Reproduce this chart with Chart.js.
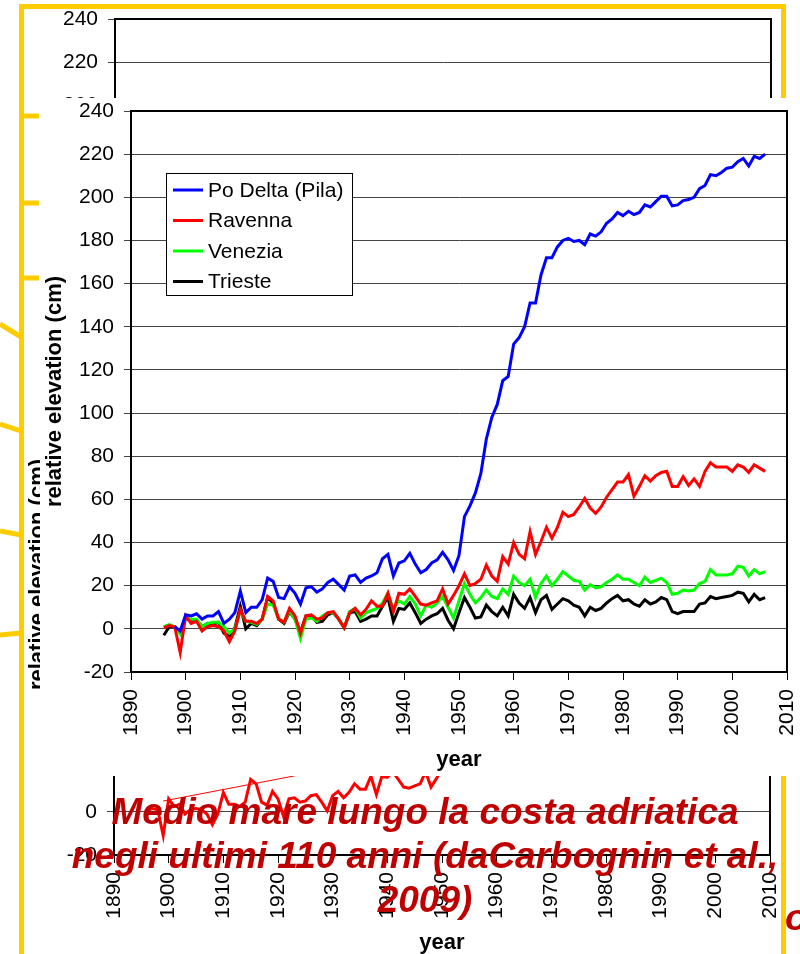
<!DOCTYPE html>
<html>
<head>
<meta charset="utf-8">
<script src="https://cdn.jsdelivr.net/npm/chart.js@4/dist/chart.umd.min.js"></script>
<style>
  html, body { margin: 0; padding: 0; width: 800px; height: 954px; overflow: hidden; background: #fff; }
  .layer { position: absolute; }
  #backTopWrap { left: 24px; top: 6px; width: 760px; height: 92px; overflow: hidden; z-index: 0; }
  #backBottomWrap { left: 23px; top: 281px; width: 760px; height: 678px; z-index: 0; }
  #frame { left: 0; top: 0; z-index: 1; }
  #mainWrap { left: 40px; top: 98px; width: 760px; height: 678px; background: #fff; z-index: 2; }
  .caption {
    position: absolute; z-index: 3;
    font-family: "Liberation Sans", Arial, sans-serif;
    font-weight: bold; font-style: italic; font-size: 37px; line-height: 44px;
    color: #C00000; white-space: nowrap;
  }
  #title { left: 25px; top: 790px; width: 800px; text-align: center; }
  #cut { left: 785px; top: 896px; }
</style>
</head>
<body>
<div id="backTopWrap" class="layer"><canvas id="backTop" width="760" height="678"></canvas></div>
<div id="backBottomWrap" class="layer"><canvas id="backBottom" width="760" height="678"></canvas></div>
<canvas id="frame" class="layer" width="800" height="954"></canvas>
<div id="mainWrap" class="layer"><canvas id="main" width="760" height="678"></canvas></div>
<div id="title" class="caption">Medio mare lungo la costa adriatica<br>negli ultimi 110 anni (daCarbognin et al.,<br>2009)</div>
<div id="cut" class="caption">o</div>

<script>
// Annual relative elevation (cm), 1896-2006
const years = [];
for (let y = 1896; y <= 2006; y++) years.push(y);

const poDelta = [
  null, null, 1, -1,                                              // 1896-1899
  6.5, 6, 7, 4.5, 6, 6, 8, 2.5, 4.5, 7.5,                          // 1900s
  17.5, 7.5, 10, 10, 13.5, 23.5, 22, 14.5, 14, 19.5,               // 1910s
  16.5, 11.5, 19, 19.5, 17, 18.5, 21.5, 23, 20.5, 18,              // 1920s
  24.5, 25, 21.5, 23.5, 24.5, 26, 32.5, 34.5, 24.5, 30.5,          // 1930s
  31.5, 35, 30, 26, 27.5, 30.5, 32, 35.5, 32, 27,                  // 1940s
  34, 52, 57, 63, 72, 88, 98, 104, 115, 117,                       // 1950s
  132, 135, 140, 151, 151, 164, 172, 172, 177, 180,                // 1960s
  181, 179.5, 180, 178, 183, 182, 184, 188, 190, 193,              // 1970s
  191.5, 193.5, 192, 193, 196.5, 195.5, 198, 200.5, 200.5, 196,    // 1980s
  196.5, 198.5, 199, 200, 204, 205.5, 210.5, 210, 211.5, 213.5,    // 1990s
  214, 216.5, 218, 214.5, 219, 218, 220                            // 2000-2006
];

const ravenna = [
  0.5, 1.5, 1, -11,
  6, 2.5, 3.5, -1, 1, 1.5, 1, -1, -6, -1,
  9, 3.5, 3.5, 2.5, 4.5, 15, 13, 4.5, 3, 9.5,
  6, -2, 6, 6.5, 4.5, 5, 7.5, 8, 4.5, 0.5,
  7.5, 9.5, 6.5, 9, 13, 10.5, 10.5, 16.5, 8, 16.5,
  16, 18.5, 15, 11.5, 11, 12, 13, 18.5, 11.5, 15.5,
  20, 25.5, 20, 21, 23, 29.5, 24.5, 22, 33.5, 30,
  40, 34.5, 32.5, 45, 34.5, 40.5, 47, 42, 47, 54,
  52, 53, 56.5, 60.5, 56, 53.5, 56.5, 61, 64.5, 68,
  68, 71.5, 61.5, 66, 71, 68.5, 71, 72.5, 73, 66,
  66, 70.5, 66.5, 69.5, 66, 73, 77, 75, 75, 75,
  73, 76, 75, 72.5, 76, 74.5, 73
];

const venezia = [
  1, 2, 1, -2.5,
  5, 4.5, 4.5, 1, 2.5, 3, 3, 1, -2, 0,
  8, 3.5, 3, 2, 4.5, 11.5, 11, 5, 3, 8.5,
  4.5, -4.5, 4.5, 5, 3.5, 6, 7.5, 7.5, 4.5, 0.5,
  8, 9.5, 5, 7.5, 8.5, 9.5, 12, 16.5, 9, 13,
  11.5, 15, 11.5, 6, 11, 10, 12, 15, 10, 5,
  13, 21, 16, 12, 14.5, 18, 15, 14, 18.5, 16,
  24.5, 21.5, 20, 23, 14.5, 21, 24.5, 20, 23, 26.5,
  24.5, 22.5, 22, 18, 20.5, 19, 19.5, 21.5, 23, 25,
  23, 23, 21.5, 20, 24, 21.5, 22.5, 23.5, 21.5, 16,
  16.5, 18, 17.5, 18, 21, 22, 27.5, 25, 25, 25,
  25.5, 29, 28.5, 24.5, 27.5, 25.5, 26.5
];

const trieste = [
  -3, 1, 1, -2,
  5, 3.5, 4, 1, 2.5, 2, 3, -2, -3.5, 0.5,
  10.5, 0, 2.5, 1.5, 4.5, 14.5, 12, 4.5, 2.5, 8,
  4.5, -1.5, 6, 6, 3, 3.5, 6.5, 7.5, 4.5, 0.5,
  7.5, 8, 3.5, 4.5, 6, 6, 10.5, 14.5, 3.5, 9.5,
  9, 12, 7.5, 2.5, 4.5, 6, 7, 9.5, 4, 0,
  7.5, 14.5, 10, 5, 5.5, 11, 8, 6, 10, 6,
  16, 12, 9.5, 14.5, 7.5, 13.5, 15.5, 9, 11.5, 14,
  13, 11, 10, 6, 10, 8.5, 9.5, 12, 14, 15.5,
  13, 13.5, 11.5, 10.5, 13.5, 11.5, 12.5, 14.5, 13.5, 8,
  7, 8, 8, 8, 11.5, 12, 15, 14, 14.5, 15,
  15.5, 17, 16.5, 12.5, 16, 13.5, 14.5
];

// Linear trend drawn over the Ravenna record in the copy behind the main chart
const trendYears = [1899, 1935];
const trendValues = [5, 22.5];

const seriesNames = ['Po Delta (Pila)', 'Ravenna', 'Venezia', 'Trieste'];
const seriesColors = ['#0000FF', '#FF0000', '#00FF00', '#000000'];
const yearTicks = [1890, 2010, 10];
const elevationTicks = [-20, 240, 20];

const FONT = '"Liberation Sans", Arial, sans-serif';

function points(xs, ys) {
  return xs.map((x, i) => ({ x: x, y: ys[i] }));
}

function seriesDataset(idx, values) {
  return {
    label: seriesNames[idx],
    data: points(years, values),
    borderColor: seriesColors[idx],
    backgroundColor: seriesColors[idx],
    borderWidth: 3,
    pointRadius: 0,
    tension: 0,
    spanGaps: false
  };
}

// Fixed axis sizes; label overhang is absorbed by the layout padding instead
function fixSize(prop, value) {
  return s => {
    s[prop] = value;
    s.paddingLeft = 0;
    s.paddingRight = 0;
    s.paddingTop = 0;
    s.paddingBottom = 0;
  };
}

// Black frame around the plot area
const plotBorder = {
  id: 'plotBorder',
  afterDraw(chart) {
    const { ctx, chartArea: a } = chart;
    ctx.save();
    ctx.strokeStyle = '#000';
    ctx.lineWidth = 2;
    ctx.strokeRect(a.left, a.top, a.right - a.left, a.bottom - a.top);
    ctx.restore();
  }
};

// Boxed legend sitting inside the plot area
const boxLegend = {
  id: 'boxLegend',
  afterDatasetsDraw(chart, args, opts) {
    if (!opts || !opts.show) return;
    const { ctx, chartArea } = chart;
    const x0 = chartArea.left + opts.dx;
    const y0 = chartArea.top + opts.dy;
    ctx.save();
    ctx.fillStyle = '#fff';
    ctx.fillRect(x0, y0, opts.w, opts.h);
    ctx.strokeStyle = '#000';
    ctx.lineWidth = 1;
    ctx.strokeRect(x0 + 0.5, y0 + 0.5, opts.w, opts.h);
    ctx.font = '21px ' + FONT;
    ctx.textBaseline = 'middle';
    chart.data.datasets.forEach((ds, i) => {
      const yy = y0 + 17 + i * 30.5;
      ctx.strokeStyle = ds.borderColor;
      ctx.lineWidth = 3;
      ctx.beginPath();
      ctx.moveTo(x0 + 7, yy);
      ctx.lineTo(x0 + 37, yy);
      ctx.stroke();
      ctx.fillStyle = '#000';
      ctx.fillText(ds.label, x0 + 42, yy + 1);
    });
    ctx.restore();
  }
};

function makeChart(canvasId, datasets, withLegend) {
  return new Chart(document.getElementById(canvasId), {
    type: 'line',
    data: { datasets: datasets },
    options: {
      responsive: false,
      animation: false,
      events: [],
      layout: { padding: { left: 0, right: 13, top: 13, bottom: 0 } },
      plugins: {
        legend: { display: false },
        tooltip: { enabled: false },
        boxLegend: { show: withLegend, dx: 35, dy: 62, w: 186, h: 122 }
      },
      scales: {
        x: {
          type: 'linear',
          min: yearTicks[0],
          max: yearTicks[1],
          ticks: {
            stepSize: yearTicks[2],
            minRotation: 90,
            maxRotation: 90,
            autoSkip: false,
            padding: 9,
            color: '#000',
            font: { family: FONT, size: 21 },
            callback: v => String(v)
          },
          grid: { drawOnChartArea: false, drawTicks: true, tickLength: 8, color: '#000', lineWidth: 1 },
          border: { display: true, color: '#000', width: 2 },
          title: {
            display: true, text: 'year', color: '#000',
            font: { family: FONT, size: 22, weight: 'bold' },
            padding: { top: 0, bottom: 3 }
          },
          afterFit: fixSize('height', 104)
        },
        y: {
          type: 'linear',
          min: elevationTicks[0],
          max: elevationTicks[1],
          ticks: {
            stepSize: elevationTicks[2],
            padding: 10,
            color: '#000',
            font: { family: FONT, size: 21 },
            callback: v => String(v)
          },
          grid: { color: '#444444', lineWidth: 1, tickLength: 7 },
          border: { display: true, color: '#000', width: 2 },
          title: {
            display: true, text: 'relative elevation (cm)', color: '#000',
            font: { family: FONT, size: 22, weight: 'bold' },
            padding: { top: 2, bottom: 0 }
          },
          afterFit: fixSize('width', 91)
        }
      }
    },
    plugins: [boxLegend, plotBorder]
  });
}

// Copy behind, upper strip: axes only
makeChart('backTop', [], false);

// Copy behind, lower strip: Ravenna with its trend line
makeChart('backBottom', [
  seriesDataset(1, ravenna),
  {
    label: 'trend',
    data: points(trendYears, trendValues),
    borderColor: '#FF0000',
    borderWidth: 1,
    pointRadius: 0,
    tension: 0
  }
], false);

// Slide frame in yellow
(function drawFrame() {
  const c = document.getElementById('frame').getContext('2d');
  c.strokeStyle = '#FFCC00';
  c.lineWidth = 5;
  c.lineCap = 'butt';
  const segs = [
    [19, 6.5, 786, 6.5],
    [21.5, 4, 21.5, 954],
    [783.5, 4, 783.5, 954],
    [21, 116, 39, 116],
    [21, 203, 39, 203],
    [21, 278, 39, 278],
    [0, 324, 21, 337],
    [0, 424, 21, 431],
    [0, 531, 21, 535],
    [0, 635, 21, 633]
  ];
  segs.forEach(s => {
    c.beginPath();
    c.moveTo(s[0], s[1]);
    c.lineTo(s[2], s[3]);
    c.stroke();
  });
})();

// Main chart
makeChart('main', [
  seriesDataset(0, poDelta),
  seriesDataset(1, ravenna),
  seriesDataset(2, venezia),
  seriesDataset(3, trieste)
], true);
</script>
</body>
</html>
